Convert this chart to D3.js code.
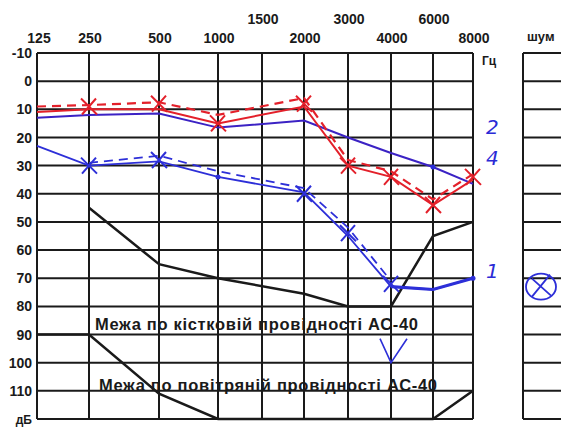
<!DOCTYPE html>
<html>
<head>
<meta charset="utf-8">
<script src="https://cdn.jsdelivr.net/npm/d3@7"></script>
<style>
  body { margin: 0; background: #fff; }
  svg text { font-family: "Liberation Sans", Arial, sans-serif; font-weight: bold; fill: #1a1a1a; }
  .hand { font-family: "DejaVu Sans", sans-serif; font-style: italic; font-weight: normal; fill: #2b2bd6; }
</style>
</head>
<body>
<div id="chart"></div>
<script>
// frequencies (Гц) and the two label rows at the top
var freqs = [125, 250, 500, 1000, 1500, 2000, 3000, 4000, 6000, 8000];
var freqLow = [125, 250, 500, 1000, 2000, 4000, 8000];
var freqHigh = [1500, 3000, 6000];
var levels = [-10, 0, 10, 20, 30, 40, 50, 60, 70, 80, 90, 100, 110, 120];

// red curves
var redSolid = [[125, 11], [250, 10], [500, 10], [1000, 15], [2000, 9], [3000, 30], [4000, 34], [6000, 44], [8000, 35]];
var redDashed = [[125, 9], [250, 8.5], [500, 7.5], [1000, 12], [2000, 6], [3000, 28], [4000, 32], [6000, 42], [8000, 33]];
var redCross = [[250, 9], [500, 8], [1000, 15], [2000, 8], [3000, 30], [4000, 34], [6000, 44], [8000, 34]];

// blue curves
var blueUpper = [[125, 13], [250, 12], [500, 11.5], [1000, 16.5], [2000, 14], [3000, 20], [4000, 25.5], [6000, 30.5], [8000, 36.5]];
var blueLower = [[125, 23], [250, 30], [500, 28.5], [1000, 34], [2000, 39.5], [3000, 55], [4000, 73], [6000, 74], [8000, 70]];
var blueDashed = [[250, 29], [500, 26.5], [1000, 32], [2000, 38], [3000, 52], [4000, 71]];
var blueCross = [[250, 30], [500, 28], [2000, 40], [3000, 54], [4000, 72]];
var blueDot = [[1000, 34], [6000, 30.5], [8000, 70]];
var blueNoResp = [[4000, 100]];
var noiseLevel = 73;

// limits of the AC-40 audiometer
var boneLimit = [[250, 45], [500, 65], [1000, 70], [2000, 75.5], [3000, 80], [4000, 80], [6000, 55], [8000, 50]];
var airLimit = [[125, 90], [250, 90], [500, 111], [1000, 120], [6000, 120], [8000, 110]];
var boneLabel = "Межа по кістковій провідності АС-40";
var airLabel = "Межа по повітряній провідності АС-40";
var curveMarks = [["2", 16], ["4", 27], ["1", 67]];

var width = 561, height = 430;
var svg = d3.select("#chart").append("svg")
    .attr("width", width)
    .attr("height", height);

// the form has uneven column widths, so the x scale is piecewise
var x = d3.scaleLinear()
    .domain(freqs)
    .range([37, 89, 159, 218, 262, 304, 348, 391, 433, 473]);
var y = d3.scaleLinear().domain([-10, 120]).range([53, 419]);

var ink = "#1a1a1a";

// grid
svg.append("g").selectAll("line")
    .data(levels)
    .enter().append("line")
    .attr("x1", x(125)).attr("x2", x(8000))
    .attr("y1", function (d) { return y(d); })
    .attr("y2", function (d) { return y(d); })
    .attr("stroke", ink).attr("stroke-width", 2);

svg.append("g").selectAll("line")
    .data(freqs)
    .enter().append("line")
    .attr("x1", function (d) { return x(d); })
    .attr("x2", function (d) { return x(d); })
    .attr("y1", y(-10)).attr("y2", y(120))
    .attr("stroke", ink).attr("stroke-width", 2);

// noise panel on the right
var noiseLeft = 523;
svg.append("g").selectAll("line")
    .data(levels)
    .enter().append("line")
    .attr("x1", noiseLeft).attr("x2", width + 5)
    .attr("y1", function (d) { return y(d); })
    .attr("y2", function (d) { return y(d); })
    .attr("stroke", ink).attr("stroke-width", 2);
svg.append("line")
    .attr("x1", noiseLeft).attr("x2", noiseLeft)
    .attr("y1", y(-10)).attr("y2", y(120))
    .attr("stroke", ink).attr("stroke-width", 2);

// axis labels
svg.append("g").selectAll("text")
    .data(freqLow)
    .enter().append("text")
    .attr("x", function (d) { return x(d) + (d == 125 ? 2 : 1); })
    .attr("y", 43)
    .attr("text-anchor", "middle")
    .style("font-size", "14px")
    .text(function (d) { return d; });

svg.append("g").selectAll("text")
    .data(freqHigh)
    .enter().append("text")
    .attr("x", function (d) { return x(d) + 1; })
    .attr("y", 24)
    .attr("text-anchor", "middle")
    .style("font-size", "14px")
    .text(function (d) { return d; });

svg.append("g").selectAll("text")
    .data(levels.slice(0, -1))
    .enter().append("text")
    .attr("x", 32)
    .attr("y", function (d) { return y(d); })
    .attr("dy", "0.36em")
    .attr("text-anchor", "end")
    .style("font-size", "14px")
    .text(function (d) { return d; });

svg.append("text").attr("x", 32).attr("y", y(120) + 5)
    .attr("text-anchor", "end").style("font-size", "12px").text("дБ");
svg.append("text").attr("x", 482).attr("y", 65)
    .style("font-size", "12px").text("Гц");
svg.append("text").attr("x", 527).attr("y", 41)
    .style("font-size", "13px").text("шум");

// limit lines
var line = d3.line()
    .x(function (d) { return x(d[0]); })
    .y(function (d) { return y(d[1]); });

svg.append("path").datum(boneLimit)
    .attr("d", line).attr("fill", "none")
    .attr("stroke", ink).attr("stroke-width", 2.5);
svg.append("path").datum(airLimit)
    .attr("d", line).attr("fill", "none")
    .attr("stroke", ink).attr("stroke-width", 2.5);

svg.append("text").attr("x", 95).attr("y", 330)
    .attr("textLength", 323).attr("lengthAdjust", "spacing")
    .style("font-size", "16.5px").text(boneLabel);
svg.append("text").attr("x", 99).attr("y", 391)
    .attr("textLength", 338).attr("lengthAdjust", "spacing")
    .style("font-size", "16.5px").text(airLabel);

// hand drawn curves
var hand = d3.line()
    .x(function (d) { return x(d[0]); })
    .y(function (d) { return y(d[1]); });

var red = "#e3202a", blue = "#2d2fd8", violet = "#3b22c4";

svg.append("path").datum(blueUpper).attr("d", hand)
    .attr("fill", "none").attr("stroke", violet).attr("stroke-width", 2);
svg.append("path").datum(blueLower).attr("d", hand)
    .attr("fill", "none").attr("stroke", blue).attr("stroke-width", 1.8);
// the 4000-6000 stretch is traced twice on the form
svg.append("path").datum(blueLower.slice(6)).attr("d", hand)
    .attr("fill", "none").attr("stroke", blue).attr("stroke-width", 3.2);
svg.append("path").datum(blueDashed).attr("d", hand)
    .attr("fill", "none").attr("stroke", blue).attr("stroke-width", 1.8)
    .attr("stroke-dasharray", "9,6");
svg.append("path").datum(redSolid).attr("d", hand)
    .attr("fill", "none").attr("stroke", red).attr("stroke-width", 2);
svg.append("path").datum(redDashed).attr("d", hand)
    .attr("fill", "none").attr("stroke", red).attr("stroke-width", 2.2)
    .attr("stroke-dasharray", "9,6");

function crosses(data, color) {
    svg.append("g").selectAll("path")
        .data(data)
        .enter().append("path")
        .attr("transform", function (d) { return "translate(" + x(d[0]) + "," + y(d[1]) + ")"; })
        .attr("d", "M-8,-8L8,8M-7,8L7,-8")
        .attr("fill", "none")
        .attr("stroke", color)
        .attr("stroke-width", 2);
}
crosses(redCross, red);
crosses(blueCross, blue);

svg.append("g").selectAll("circle")
    .data(blueDot)
    .enter().append("circle")
    .attr("cx", function (d) { return x(d[0]); })
    .attr("cy", function (d) { return y(d[1]); })
    .attr("r", 2.5)
    .attr("fill", blue);

// no response mark
svg.append("g").selectAll("path")
    .data(blueNoResp)
    .enter().append("path")
    .attr("transform", function (d) { return "translate(" + x(d[0]) + "," + y(d[1]) + ")"; })
    .attr("d", "M-11,-24L0,0L16,-24")
    .attr("fill", "none").attr("stroke", blue).attr("stroke-width", 1.6);

// noise mark
var noise = svg.append("g")
    .attr("transform", "translate(" + (noiseLeft + 18) + "," + y(noiseLevel) + ")");
noise.append("ellipse").attr("rx", 15).attr("ry", 13)
    .attr("fill", "none").attr("stroke", blue).attr("stroke-width", 1.8);
noise.append("path").attr("d", "M-9,10L9,-12M-9,-8L10,9")
    .attr("fill", "none").attr("stroke", blue).attr("stroke-width", 1.8);

// handwritten curve numbers
svg.append("g").selectAll("text")
    .data(curveMarks)
    .enter().append("text")
    .attr("class", "hand")
    .attr("x", 486)
    .attr("y", function (d) { return y(d[1]) + 8; })
    .style("font-size", "20px")
    .text(function (d) { return d[0]; });
</script>
</body>
</html>
